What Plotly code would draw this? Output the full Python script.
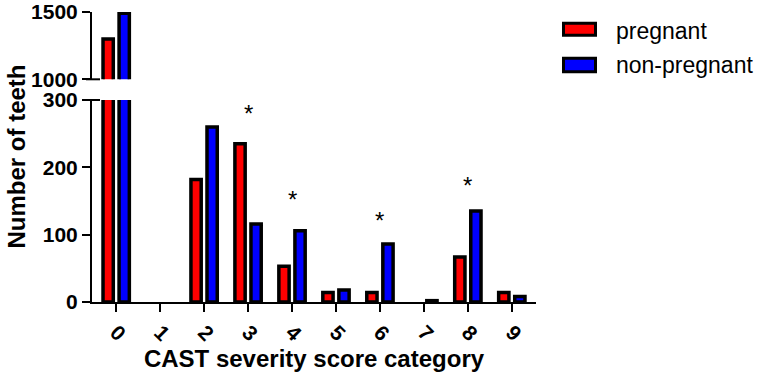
import plotly.graph_objects as go

categories = ['0', '1', '2', '3', '4', '5', '6', '7', '8', '9']
pregnant = [1300, 0, 182, 235, 53, 14, 14, 0, 67, 14]
non_pregnant = [1490, 0, 260, 116, 106, 18, 86, 2, 135, 8]
star_categories = ['3', '4', '6', '8']
star_y = [285, 157, 126, 177]

FONT = "Arial, Liberation Sans, sans-serif"
RED = "#FF0000"
BLUE = "#0000FF"

W, H = 759, 375
# plot area in pixels
L, R, T, B = 92, 536, 12, 302
PW, PH = R - L, B - T

def px(x):
    return (x - L) / PW

def py(y):
    return (B - y) / PH

def outline(vals):
    return [3.5 if v > 0 else 0 for v in vals]

fig = go.Figure()
for yax in ['y', 'y2']:
    fig.add_trace(go.Bar(x=categories, y=pregnant, name='pregnant',
                         marker=dict(color=RED, line=dict(color='black', width=outline(pregnant))),
                         yaxis=yax, showlegend=False))
    fig.add_trace(go.Bar(x=categories, y=non_pregnant, name='non-pregnant',
                         marker=dict(color=BLUE, line=dict(color='black', width=outline(non_pregnant))),
                         yaxis=yax, showlegend=False))

bot_top = py(100)
top_bot = py(79.3)

axis_common = dict(showline=True, linecolor='black', linewidth=2, ticks='outside',
                   ticklen=8, tickwidth=2, tickcolor='black', showgrid=False,
                   zeroline=False, automargin=False,
                   tickfont=dict(family=FONT, size=21, color='black'))

fig.update_layout(
    width=W, height=H,
    margin=dict(l=L, r=W - R, t=T, b=H - B),
    plot_bgcolor='white', paper_bgcolor='white',
    barmode='group', bargap=0.27, bargroupgap=0.36,
    font=dict(family=FONT, color='black'),
    xaxis=dict(**axis_common, tickangle=45, range=[-0.55, 9.55], type='category',
               title=dict(text='<b>CAST severity score category</b>',
                          font=dict(family=FONT, size=24, color='black'), standoff=0)),
    yaxis=dict(**axis_common, domain=[0, bot_top], range=[0, 300],
               tickvals=[0, 100, 200, 300], ticktext=['<b>0</b>', '<b>100</b>', '<b>200</b>', '<b>300</b>']),
    yaxis2=dict(**axis_common, domain=[top_bot, 1], range=[1000, 1500], anchor='x',
                tickvals=[1000, 1500], ticktext=['<b>1000</b>', '<b>1500</b>']),
)
fig.update_xaxes(ticktext=['<b>%s</b>' % c for c in categories], tickvals=categories)

# break caps
for yy in [top_bot, bot_top]:
    fig.add_shape(type='line', xref='paper', yref='paper', x0=px(86), x1=px(100),
                  y0=yy, y1=yy, line=dict(color='black', width=2))

# significance stars
for c, v in zip(star_categories, star_y):
    fig.add_annotation(x=c, y=v, xref='x', yref='y', text='*', showarrow=False,
                       font=dict(family=FONT, size=24, color='black'), yshift=-3)

# y title
fig.add_annotation(x=px(15.5), y=py(157), xref='paper', yref='paper',
                   text='<b>Number of teeth</b>', textangle=-90, showarrow=False,
                   font=dict(family=FONT, size=24, color='black'),
                   xanchor='center', yanchor='middle')

# legend
legend_items = [('pregnant', RED, 23.2, 35.2, 31), ('non-pregnant', BLUE, 58.2, 71.8, 65)]
for label, col, y0, y1, ty in legend_items:
    fig.add_shape(type='rect', xref='paper', yref='paper', x0=px(563.5), x1=px(595.5),
                  y0=py(y1), y1=py(y0), fillcolor=col, line=dict(color='black', width=3))
    fig.add_annotation(x=px(614), y=py(ty), xref='paper', yref='paper', text=label,
                       showarrow=False, xanchor='left', yanchor='middle',
                       font=dict(family=FONT, size=23, color='black'))

fig.write_html("out.html", config={'displayModeBar': False},
               post_script="document.body.style.margin='0px';")
